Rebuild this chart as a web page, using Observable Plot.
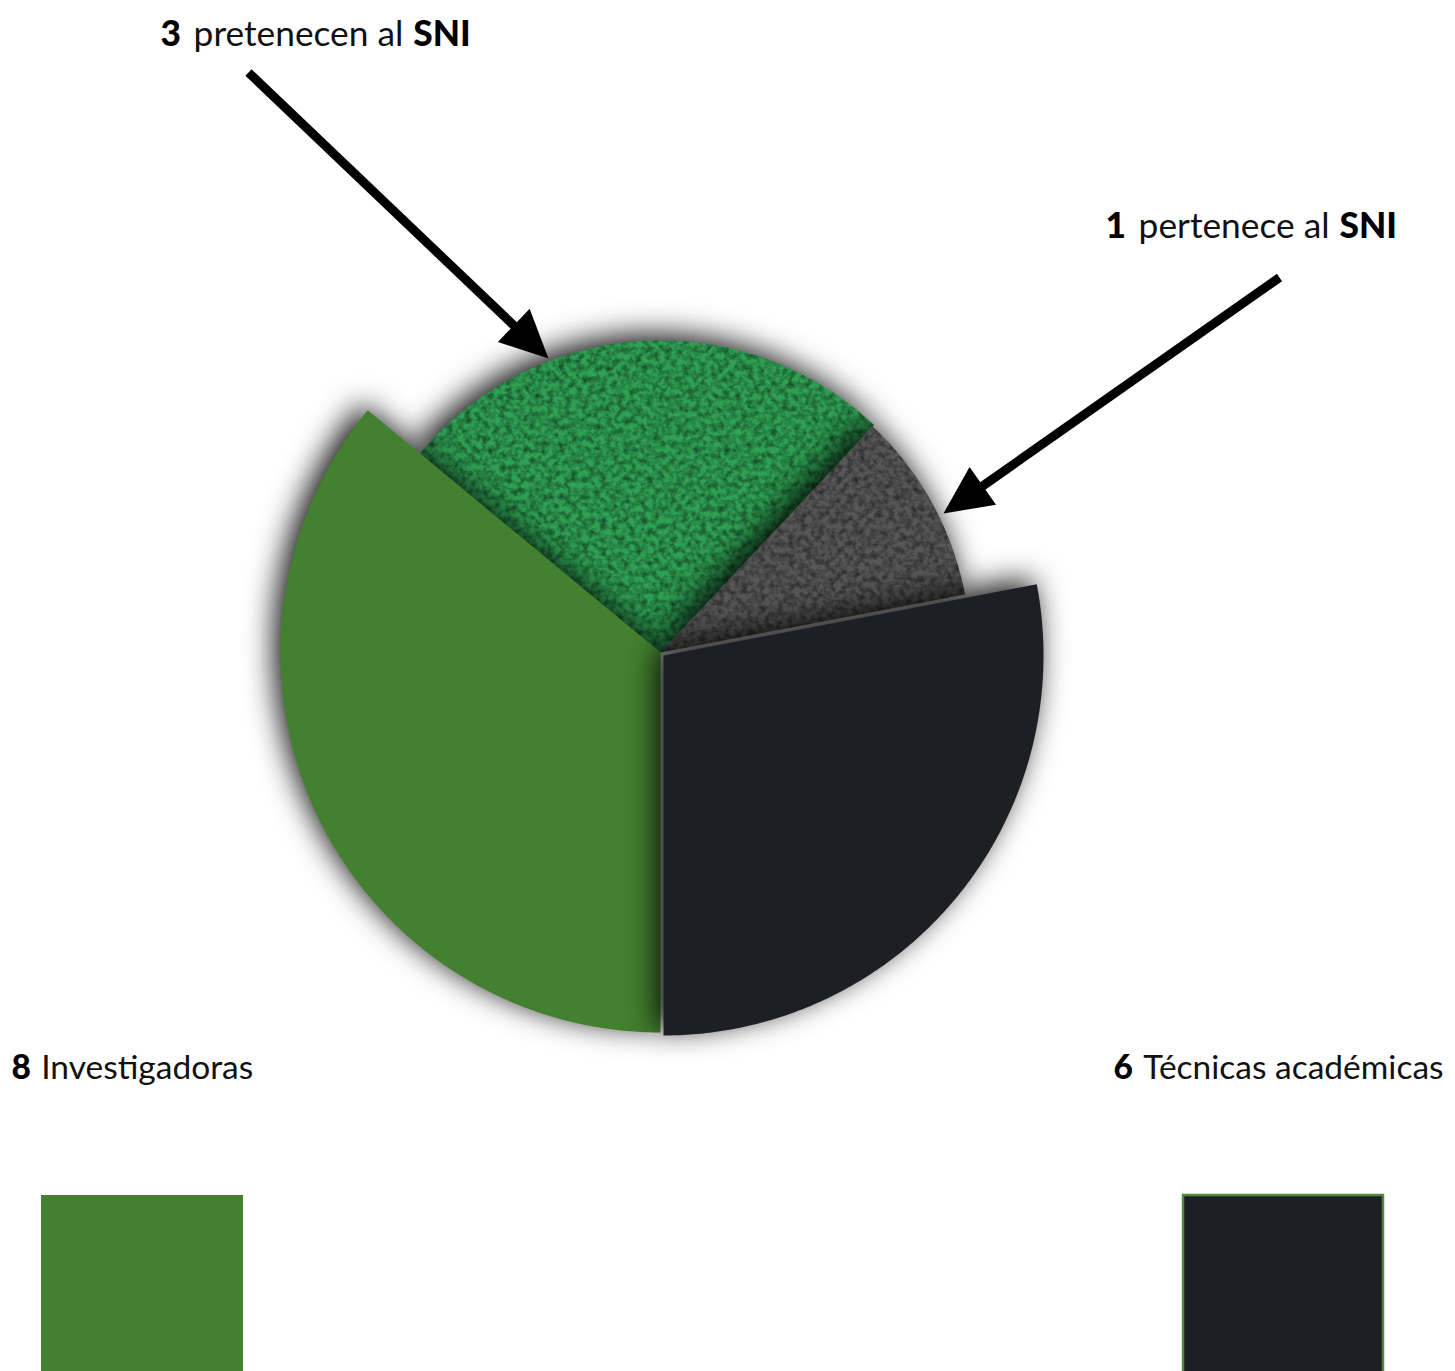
<!DOCTYPE html>
<html><head><meta charset="utf-8">
<script src="https://cdn.jsdelivr.net/npm/d3@7"></script>
<script src="https://cdn.jsdelivr.net/npm/@observablehq/plot@0.6"></script>
<style>
html,body{margin:0;padding:0;background:#fff;overflow:hidden;}
#chart svg{display:block;}
</style></head><body><div id="chart"></div>
<script>
// ---------- DATA ----------
const sliceCategories = ["Investigadoras", "Investigadoras en el SNI", "Técnicas académicas en el SNI", "Técnicas académicas"];
const sliceShares = [36, 26, 10, 28]; // share of the circle (%) as drawn
const sniCounts = [3, 1];
const sniTexts = ["pretenecen al", "pertenece al"];
const sniTag = "SNI";
const legendCounts = [8, 6];
const legendLabels = ["Investigadoras", "Técnicas académicas"];

// ---------- LAYOUT / STYLE ----------
const W = 1455, H = 1371;
const FONT = "Lato, 'Open Sans', sans-serif";
const REG = 400, BOLD = 900;
const center = {x: 660, y: 652};
const sliceStyle = [
  {fill: "#43802f", r: 380, dx: 0, dy: 0, texture: false},
  {fill: "#2fa154", r: 312, dx: 0, dy: 0, texture: true},
  {fill: "#575757", r: 310, dx: 0, dy: 0, texture: true},
  {fill: "#1d1f24", r: 380, dx: 3, dy: 3, texture: false}
];
const drawOrder = [1, 2, 0, 3];
const annotLayout = [
  {x: 160, y: 45, size: 35.3, from: [248, 72], to: [548, 358]},
  {x: 1105, y: 237, size: 35.3, from: [1279, 277], to: [943, 513]}
];
const legendLayout = [
  {x: 11, y: 1078, size: 33.5, sx1: 41, sx2: 243, sy: 1195, fill: "#43802f", stroke: "none"},
  {x: 1113, y: 1078, size: 33.5, sx1: 1183, sx2: 1383, sy: 1195, fill: "#1d1f24", stroke: "#4f8a3c"}
];
const headLen = 48, headHalf = 23;

// ---------- GEOMETRY from data ----------
const arcs = d3.pie().sort(null).startAngle(Math.PI).endAngle(3 * Math.PI)(sliceShares);
function slicePoly(i) {
  const a = arcs[i], s = sliceStyle[i];
  const cx = center.x + s.dx, cy = center.y + s.dy;
  const pts = [{x: cx, y: cy, k: i}];
  const n = Math.max(8, Math.ceil((a.endAngle - a.startAngle) / (Math.PI / 360)));
  for (let j = 0; j <= n; j++) {
    const t = a.startAngle + (a.endAngle - a.startAngle) * j / n;
    pts.push({x: cx + s.r * Math.sin(t), y: cy - s.r * Math.cos(t), k: i});
  }
  pts.push({x: cx, y: cy, k: i});
  return pts;
}

// text measurement
const ctx = document.createElement("canvas").getContext("2d");
function tw(text, weight, size) { ctx.font = `${weight} ${size}px ${FONT}`; return ctx.measureText(text).width; }

const boldPieces = [], regPieces = [];
sniCounts.forEach((c, i) => {
  const L = annotLayout[i];
  let x = L.x;
  const sp = tw(" ", REG, L.size);
  boldPieces.push({x, y: L.y, text: String(c), size: L.size});
  x += tw(String(c), BOLD, L.size) + sp * 1.4;
  regPieces.push({x, y: L.y, text: sniTexts[i], size: L.size});
  x += tw(sniTexts[i], REG, L.size) + sp * 1.1;
  boldPieces.push({x, y: L.y, text: sniTag, size: L.size});
});
legendCounts.forEach((c, i) => {
  const L = legendLayout[i];
  boldPieces.push({x: L.x, y: L.y, text: String(c), size: L.size});
  regPieces.push({x: L.x + tw(String(c), BOLD, L.size) + tw(" ", REG, L.size) * 1.2, y: L.y, text: legendLabels[i], size: L.size});
});

// arrows
const shafts = [], heads = [];
annotLayout.forEach((L, i) => {
  const [x0, y0] = L.from, [x1, y1] = L.to;
  const len = Math.hypot(x1 - x0, y1 - y0), ux = (x1 - x0) / len, uy = (y1 - y0) / len;
  const bx = x1 - ux * headLen, by = y1 - uy * headLen;
  shafts.push({x1: x0, y1: y0, x2: bx + ux * 4, y2: by + uy * 4});
  heads.push({x: x1, y: y1, k: i}, {x: bx - uy * headHalf, y: by + ux * headHalf, k: i}, {x: bx + uy * headHalf, y: by - ux * headHalf, k: i});
});

const swatches = legendLabels.map((l, i) => ({label: l, x1: legendLayout[i].sx1, x2: legendLayout[i].sx2, y1: legendLayout[i].sy, y2: H + 20}));

const marks = [];
drawOrder.forEach(i => {
  marks.push(Plot.line(slicePoly(i), {x: "x", y: "y", fill: sliceStyle[i].fill, stroke: "none", ariaDescription: "slice-" + i}));
});
marks.push(Plot.link(shafts, {x1: "x1", y1: "y1", x2: "x2", y2: "y2", stroke: "#000", strokeWidth: 9, strokeLinecap: "butt"}));
marks.push(Plot.line(heads, {x: "x", y: "y", z: "k", fill: "#000", stroke: "none"}));
swatches.forEach((s, i) => {
  marks.push(Plot.rect([s], {x1: "x1", x2: "x2", y1: "y1", y2: "y2", fill: legendLayout[i].fill, stroke: legendLayout[i].stroke, strokeWidth: 2.5}));
});
const sizes = [...new Set([...regPieces, ...boldPieces].map(d => d.size))];
sizes.forEach(sz => {
  marks.push(Plot.text(regPieces.filter(d => d.size === sz), {x: "x", y: "y", text: "text", textAnchor: "start", lineAnchor: "bottom", fontSize: sz, fontWeight: REG, fill: "#111"}));
  marks.push(Plot.text(boldPieces.filter(d => d.size === sz), {x: "x", y: "y", text: "text", textAnchor: "start", lineAnchor: "bottom", fontSize: sz, fontWeight: BOLD, fill: "#000"}));
});

const svg = Plot.plot({
  width: W, height: H, margin: 0,
  style: {fontFamily: FONT, background: "#fff", overflow: "hidden"},
  x: {domain: [0, W], range: [0, W], axis: null},
  y: {domain: [0, H], range: [0, H], axis: null},
  marks
});

const defs = document.createElementNS("http://www.w3.org/2000/svg", "defs");
defs.innerHTML = `
<filter id="shadow" x="-30%" y="-30%" width="160%" height="160%" color-interpolation-filters="sRGB">
  <feGaussianBlur in="SourceAlpha" stdDeviation="15"/>
  <feOffset dx="-6" dy="-6" result="b"/>
  <feFlood flood-color="#000" flood-opacity="0.92"/>
  <feComposite in2="b" operator="in" result="s"/>
  <feMerge><feMergeNode in="s"/><feMergeNode in="SourceGraphic"/></feMerge>
</filter>
<filter id="tex" x="0" y="0" width="100%" height="100%" color-interpolation-filters="sRGB">
  <feTurbulence type="fractalNoise" baseFrequency="0.17" numOctaves="3" seed="7" result="n"/>
  <feColorMatrix in="n" type="matrix" values="0 0 0 0 0  0 0 0 0 0  0 0 0 0 0  1.0 0 0 0 -0.35" result="m"/>
  <feComposite in="m" in2="SourceGraphic" operator="in" result="spots"/>
  <feMerge><feMergeNode in="SourceGraphic"/><feMergeNode in="spots"/></feMerge>
</filter>`;
svg.insertBefore(defs, svg.firstChild);
sliceStyle.forEach((s, i) => {
  const g = svg.querySelector(`g[aria-description="slice-${i}"]`);
  if (!g) return;
  g.setAttribute("filter", "url(#shadow)");
  if (s.texture) g.querySelectorAll("path").forEach(p => p.setAttribute("filter", "url(#tex)"));
});
document.getElementById("chart").appendChild(svg);
</script>
</body></html>
